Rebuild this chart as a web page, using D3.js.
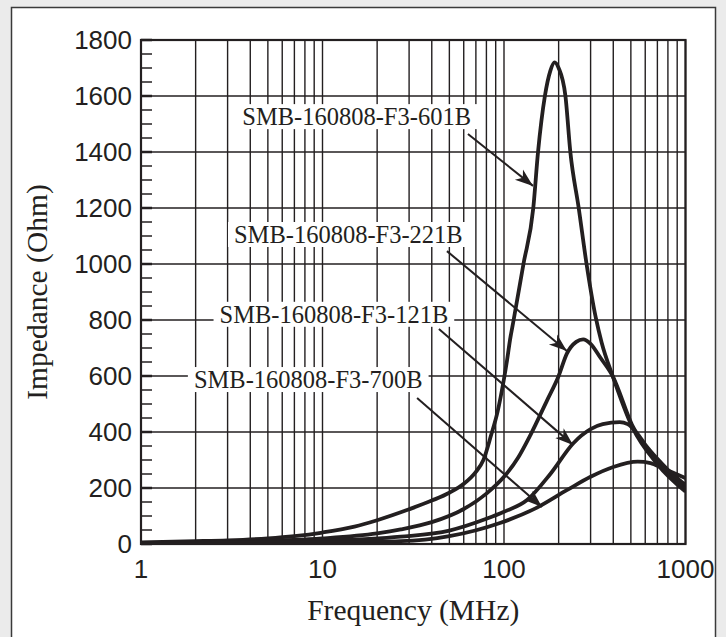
<!DOCTYPE html>
<html>
<head>
<meta charset="utf-8">
<script src="https://cdn.jsdelivr.net/npm/d3@7"></script>
<style>
  body { margin: 0; background: #ebebeb; }
  svg { display: block; }
</style>
</head>
<body>
<svg id="chart"></svg>
<script>
// tick labels
const freqTicks = [1, 10, 100, 1000];
const impTicks = [0, 200, 400, 600, 800, 1000, 1200, 1400, 1600, 1800];

// curves (MHz, Ohm)
const freq601B = [1, 2, 3, 5, 7, 10, 15, 20, 30, 40, 50, 60, 70, 77, 85, 92, 100, 104, 108, 113, 128, 145, 154, 168, 180, 190, 200, 218, 232, 258, 285, 320, 345, 398, 508, 700, 1000];
const imp601B = [6, 10, 13, 20, 28, 41, 62, 85, 124, 155, 183, 215, 258, 300, 390, 470, 590, 657, 730, 800, 1000, 1200, 1400, 1600, 1690, 1720, 1700, 1600, 1400, 1200, 1000, 810, 720, 598, 419, 285, 187];

const freq221B = [1, 3, 10, 20, 27, 40, 60, 80, 100, 120, 140, 173, 200, 222, 250, 273, 300, 340, 398, 508, 700, 1000];
const imp221B = [4, 8, 20, 38, 52, 78, 125, 180, 240, 310, 390, 514, 600, 680, 722, 731, 715, 665, 598, 425, 295, 200];

const freq121B = [1, 10, 27, 50, 80, 100, 134, 180, 241, 300, 350, 434, 480, 542, 600, 698, 800, 1000];
const imp121B = [3, 12, 26, 48, 90, 115, 157, 250, 360, 410, 428, 435, 428, 395, 355, 305, 265, 211];

const freq700B = [1, 10, 27, 50, 95, 150, 223, 300, 400, 545, 642, 750, 850, 1000];
const imp700B = [2, 6, 10, 28, 75, 128, 193, 240, 275, 294, 289, 270, 255, 235];

const partNames = ["SMB-160808-F3-601B", "SMB-160808-F3-221B", "SMB-160808-F3-121B", "SMB-160808-F3-700B"];
// label end point and arrow start / tip, in chart units (MHz, Ohm)
const labelFreq = [65.8, 59.2, 49.3, 35.6];
const labelImp = [1496, 1075, 790, 557];
const arrowFromFreq = [63.3, 48.5, 43.8, 33.2];
const arrowFromImp = [1464, 1046, 768, 521];
const arrowToFreq = [144.5, 222, 240, 162];
const arrowToImp = [1279, 689, 354, 132];

const width = 726;
const height = 637;
const margin = { left: 141, right: 40.5, top: 40, bottom: 93 };
const ink = '#231f20';

const svg = d3.select('#chart')
  .attr('width', width)
  .attr('height', height);

// panel
svg.append('rect')
  .attr('x', 11.5).attr('y', 7.5)
  .attr('width', 704).attr('height', 640)
  .attr('fill', '#fff')
  .attr('stroke', '#3a3a3a')
  .attr('stroke-width', 1.5);

const xScale = d3.scaleLog()
  .domain([1, 1000])
  .range([margin.left, width - margin.right]);

const yScale = d3.scaleLinear()
  .domain([0, 1800])
  .range([height - margin.bottom, margin.top]);

const x0 = xScale.range()[0], x1 = xScale.range()[1];
const y0 = yScale.range()[0], y1 = yScale.range()[1];

// grid
const grid = svg.append('g').attr('stroke', ink).attr('stroke-width', 1.4);
grid.selectAll('line.v')
  .data(xScale.ticks())
  .enter()
  .append('line')
  .attr('x1', d => xScale(d)).attr('x2', d => xScale(d))
  .attr('y1', y0).attr('y2', y1);
grid.selectAll('line.h')
  .data(impTicks)
  .enter()
  .append('line')
  .attr('x1', x0).attr('x2', x1)
  .attr('y1', d => yScale(d)).attr('y2', d => yScale(d));

// small ticks on the left edge
svg.append('g')
  .selectAll('line')
  .data(d3.range(0, 1801, 50))
  .enter()
  .append('line')
  .attr('x1', x0).attr('x2', x0 + 11)
  .attr('y1', d => yScale(d)).attr('y2', d => yScale(d))
  .attr('stroke', ink)
  .attr('stroke-width', d => d % 200 ? 1.5 : 2.5);

// curves
svg.append('clipPath').attr('id', 'plot-clip')
  .append('rect')
  .attr('x', x0).attr('y', y1 - 5)
  .attr('width', x1 - x0).attr('height', y0 - y1 + 5);

const line = d3.line()
  .x(d => xScale(d[0]))
  .y(d => yScale(d[1]))
  .curve(d3.curveMonotoneX);

const curves = [
  d3.zip(freq601B, imp601B),
  d3.zip(freq221B, imp221B),
  d3.zip(freq121B, imp121B),
  d3.zip(freq700B, imp700B)
];

svg.append('g')
  .attr('clip-path', 'url(#plot-clip)')
  .selectAll('path')
  .data(curves)
  .enter()
  .append('path')
  .attr('d', line)
  .attr('fill', 'none')
  .attr('stroke', ink)
  .attr('stroke-width', 3.8)
  .attr('stroke-linejoin', 'round');

// frame
svg.append('rect')
  .attr('x', x0).attr('y', y1)
  .attr('width', x1 - x0).attr('height', y0 - y1)
  .attr('fill', 'none')
  .attr('stroke', ink)
  .attr('stroke-width', 2.2);

// labels with arrows
svg.append('defs').append('marker')
  .attr('id', 'head')
  .attr('markerUnits', 'userSpaceOnUse')
  .attr('viewBox', '-18 -8 20 16')
  .attr('refX', 0).attr('refY', 0)
  .attr('markerWidth', 20).attr('markerHeight', 16)
  .attr('orient', 'auto')
  .append('path')
  .attr('d', 'M0,0 L-18,-6.5 L-13,0 L-18,6.5 Z')
  .attr('fill', ink);

const notes = svg.append('g');
partNames.forEach((name, i) => {
  const g = notes.append('g');
  const bg = g.append('rect').attr('fill', '#fff');
  const t = g.append('text')
    .text(name)
    .attr('x', xScale(labelFreq[i]))
    .attr('y', yScale(labelImp[i]))
    .attr('text-anchor', 'end')
    .attr('font-family', '"Liberation Serif", "Times New Roman", serif')
    .attr('font-size', 24.5)
    .attr('fill', ink);
  const b = t.node().getBBox();
  bg.attr('x', b.x - 6).attr('y', b.y + 1)
    .attr('width', b.width + 12).attr('height', b.height - 2);
  g.append('line')
    .attr('x1', xScale(arrowFromFreq[i])).attr('y1', yScale(arrowFromImp[i]))
    .attr('x2', xScale(arrowToFreq[i])).attr('y2', yScale(arrowToImp[i]))
    .attr('stroke', ink)
    .attr('stroke-width', 2)
    .attr('marker-end', 'url(#head)');
});

// axis tick labels
const sans = '"Liberation Sans", Arial, Helvetica, sans-serif';
svg.append('g')
  .selectAll('text')
  .data(impTicks)
  .enter()
  .append('text')
  .text(d => d)
  .attr('x', x0 - 9)
  .attr('y', d => yScale(d))
  .attr('dy', '0.36em')
  .attr('text-anchor', 'end')
  .attr('font-family', sans)
  .attr('font-size', 26)
  .attr('fill', ink);

svg.append('g')
  .selectAll('text')
  .data(freqTicks)
  .enter()
  .append('text')
  .text(d => d)
  .attr('x', d => xScale(d))
  .attr('y', 578)
  .attr('text-anchor', 'middle')
  .attr('font-family', sans)
  .attr('font-size', 26)
  .attr('fill', ink);

// axis titles
const serif = '"Liberation Serif", "Times New Roman", serif';
svg.append('text')
  .text('Frequency (MHz)')
  .attr('x', (x0 + x1) / 2)
  .attr('y', 620)
  .attr('text-anchor', 'middle')
  .attr('font-family', serif)
  .attr('font-size', 29.5)
  .attr('fill', ink);

svg.append('text')
  .text('Impedance (Ohm)')
  .attr('transform', `translate(47, ${(y0 + y1) / 2}) rotate(-90)`)
  .attr('text-anchor', 'middle')
  .attr('font-family', serif)
  .attr('font-size', 29.5)
  .attr('fill', ink);
</script>
</body>
</html>
